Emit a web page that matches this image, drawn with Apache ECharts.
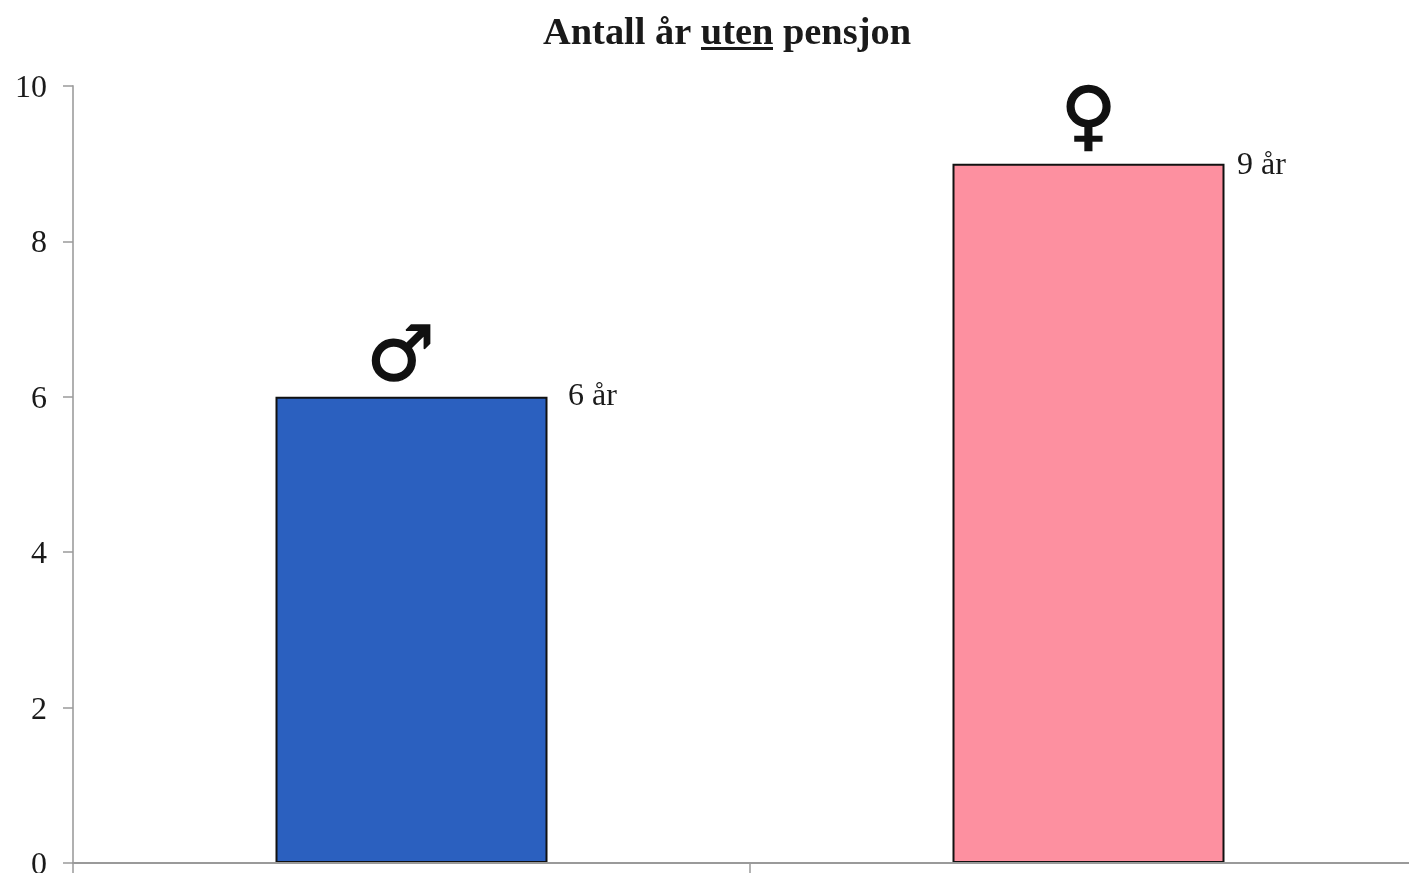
<!DOCTYPE html>
<html><head><meta charset="utf-8">
<style>html,body{margin:0;padding:0;background:#fff;overflow:hidden}#c{width:1409px;height:873px}</style>
<script src="https://cdn.jsdelivr.net/npm/echarts@6/dist/echarts.min.js"></script>
</head><body><div id="c"></div>
<script>
const categories = ["Menn", "Kvinner"];
const values = [6, 9];
const valueLabels = ["6 år", "9 år"];
const glyphs = ["♂", "♀"];
const barColors = ["#2b60bf", "#fd90a0"];
const titleText = "Antall år uten pensjon";
const serif = "'Liberation Serif','Times New Roman',serif";

const chart = echarts.init(document.getElementById('c'), null, {renderer:'canvas'});
chart.setOption({
  animation:false,
  backgroundColor:'#ffffff',
  title:{text:titleText,left:722,top:10,textAlign:'center',
    textStyle:{fontFamily:serif,fontWeight:'bold',fontSize:38.4,color:'#1a1a1a'}},
  graphic:[{type:'rect',shape:{x:701,y:47,width:72,height:3},style:{fill:'#1a1a1a'}}],
  grid:{left:73,top:86,width:1354,height:777,containLabel:false,outerBoundsMode:'none'},
  xAxis:{type:'category',data:categories,z:5,
    axisLine:{lineStyle:{color:'#9a9a9a',width:2}},
    axisTick:{show:true,alignWithLabel:false,length:10,lineStyle:{color:'#9a9a9a',width:1.5}},
    axisLabel:{show:false},splitLine:{show:false}},
  yAxis:{type:'value',min:0,max:10,interval:2,
    axisLine:{show:true,lineStyle:{color:'#b0b0b0',width:2}},
    axisTick:{show:true,length:10,lineStyle:{color:'#9a9a9a',width:1.5}},
    axisLabel:{margin:26,formatter:'{n|{value}}',
      rich:{n:{fontFamily:serif,fontSize:32,color:'#1a1a1a',padding:[5,0,0,0]}}},
    splitLine:{show:false}},
  series:[
    {type:'bar',barWidth:272,
     data:values.map((v,i)=>({value:v,itemStyle:{color:barColors[i],borderColor:'#111',borderWidth:2}}))},
    {type:'scatter',symbolSize:0,silent:true,itemStyle:{opacity:1},
     data:values.map((v,i)=>({value:v,label:{show:true,position:'inside',formatter:valueLabels[i],
       offset:[i===0?181:173,i===0?0:2],fontFamily:serif,fontSize:32,color:'#1a1a1a'}}))},
    {type:'scatter',symbolSize:0,silent:true,itemStyle:{opacity:1},
     data:values.map((v,i)=>({value:v,label:{show:true,position:'inside',formatter:glyphs[i],
       offset:[i===0?-11:0,i===0?-37:-42],fontFamily:"'DejaVu Sans'",fontSize:76,color:'#111',
       textBorderColor:'#111',textBorderWidth:1.5}}))}
  ]
});
</script></body></html>
